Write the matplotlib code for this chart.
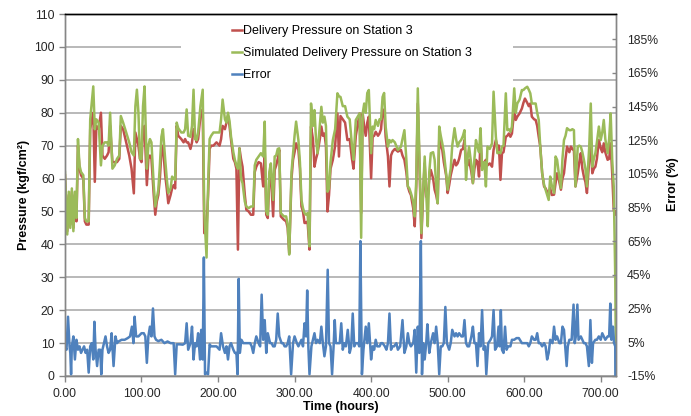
import matplotlib
matplotlib.use("Agg")
import matplotlib.pyplot as plt
from matplotlib.patches import Rectangle
from matplotlib.ticker import FuncFormatter, MultipleLocator

plt.rcParams['font.family'] = ['Liberation Sans', 'DejaVu Sans']

# pressure readings (hours, kgf/cm2)
hours_p = [
    0, 3, 5, 7, 9, 11, 13, 15, 17, 19,
    21, 24, 26, 28, 31, 33, 35, 37, 39, 41,
    44, 47, 49, 52, 55, 57, 59, 62, 65, 68,
    71, 73, 76, 80, 84, 87, 90, 92, 94, 96,
    98, 100, 102, 104, 107, 109, 111, 113, 116, 118,
    120, 122, 124, 126, 128, 131, 133, 135, 138, 140,
    142, 144, 146, 148, 152, 155, 157, 159, 161, 164,
    166, 168, 170, 172, 174, 177, 180, 182, 185, 187,
    189, 191, 194, 198, 202, 204, 206, 209, 211, 213,
    215, 217, 220, 222, 224, 226, 228, 230, 232, 235,
    237, 240, 243, 246, 248, 250, 253, 256, 259, 261,
    263, 265, 267, 269, 272, 274, 276, 278, 280, 282,
    286, 289, 291, 293, 296, 298, 300, 302, 305, 307,
    309, 311, 313, 315, 317, 319.5, 321.5, 324, 326, 328,
    330, 333, 335, 337, 339, 341, 343, 345, 347, 350,
    353, 356, 358, 360, 363, 366, 369, 372, 375, 377,
    380, 383, 385, 387, 389, 391, 393, 395, 397, 400,
    402, 404, 406, 409, 411, 413, 415, 417, 419, 422,
    424, 426, 428, 431, 435, 439, 441, 443.5, 446, 448,
    450, 452, 455, 457, 459, 461, 463, 465.7, 468, 470,
    472, 474, 476, 478, 481, 483, 485, 487, 489, 491,
    493, 495, 498, 500, 502, 504, 506, 509, 511, 513,
    515, 517.6, 520, 522, 524, 526, 528, 531, 533, 535,
    537, 539, 541, 543, 545, 548, 550, 552, 555, 558,
    560, 563, 565, 567, 569, 571, 573, 576, 578, 580,
    582, 584, 587, 589, 591, 594, 597, 599, 601, 604,
    606, 608, 610, 613, 615, 617, 619, 621, 623.5, 626,
    628, 630, 632, 634, 636, 639, 641, 643, 645, 648,
    650, 652, 654, 656, 659, 661, 663, 665, 667, 670,
    672, 674, 676, 678, 680, 682, 685, 687, 689, 691,
    693, 695, 697.6, 700, 702, 704, 706, 709, 711, 713,
    715, 717, 719, 720,
]

delivery = [
    61, 44, 55, 46, 56, 45, 55, 47, 70, 63,
    61, 60, 47, 46, 46, 75, 78, 80, 59, 76,
    75, 80, 67, 66, 67, 68, 76, 65, 65, 65,
    66, 76, 75, 71, 67, 63, 55.5, 74, 72, 70,
    66, 65, 75, 76, 58, 66, 67, 66, 55, 49,
    53, 55, 60, 68, 70, 61, 57, 52.5, 55, 57,
    58, 57, 76, 73, 72, 71, 72, 71, 71, 69,
    71, 75, 73, 71, 72, 79, 81, 43.4, 45, 55,
    69, 70, 70, 71, 70, 72, 76, 75, 77, 79,
    76, 71.7, 66, 65, 63, 38.4, 69.2, 66, 63.6, 55,
    50.5, 50, 49, 49, 62, 63.6, 65, 64.6, 57.6, 68.7,
    49, 48, 60, 61.6, 48.5, 62.6, 64, 66, 68.7, 48.5,
    47.5, 47, 45, 37.4, 60, 65.7, 68, 70.7, 68.7, 63,
    51.5, 50, 46.5, 46.5, 47, 38.4, 75.8, 72, 63.6, 66,
    67.7, 72, 75.8, 73, 73.7, 70, 50, 55, 63, 65.7,
    70, 79.8, 66.7, 79, 78, 77, 71.7, 72, 66, 63,
    73, 77, 79.8, 49.5, 79.8, 75.8, 73, 77, 78.8, 60.1,
    72.7, 73, 74.2, 73, 73.7, 75, 81, 80.8, 72.7, 66.7,
    57.6, 67, 68.2, 69, 68.2, 68.7, 67, 65.7, 62, 57.6,
    56, 55, 51, 45.5, 57.6, 82.8, 65.7, 41.9, 55.6, 64.6,
    54.5, 54.5, 60, 62.6, 60, 56.6, 55, 52.5, 71.7, 70,
    68.7, 65, 61, 55.6, 58, 61, 63, 65.7, 64, 64.6,
    66, 68.7, 69, 71.7, 64.6, 64, 65.7, 62, 58.6, 63,
    65.7, 65, 60.6, 71.7, 63.6, 65, 65.7, 64, 64.6, 63.6,
    68.7, 71.7, 69.7, 70, 59.6, 67.7, 68, 72.7, 73, 73.7,
    72.7, 73.7, 80.8, 77.8, 78.8, 79.8, 81.3, 83, 84.3, 83,
    82, 82.8, 78.8, 78, 77.8, 76, 72.7, 69.7, 61.6, 57.6,
    57, 56, 55.6, 57.1, 55, 55.1, 58.6, 61.6, 60, 56.6,
    60, 61.6, 66, 69.7, 68, 69.7, 69, 68.5, 57.6, 61.6,
    65, 67.7, 63, 60.6, 59, 55.6, 65.7, 70.7, 61.6, 63,
    63.6, 66, 71.7, 69.2, 68, 70.7, 68, 65.7, 66, 70.7,
    61.6, 50.5, 49, 50,
]

simulated = [
    62, 43, 56, 45, 57, 44, 56, 48, 72, 64,
    62, 61, 48, 47, 47, 78, 83, 88, 75, 78,
    77, 64, 70, 71, 71, 70, 80, 63, 64, 66,
    67, 79, 77, 74, 71, 68, 67, 82, 87, 80,
    66, 66, 82, 88, 63, 70, 72, 71, 58, 51.5,
    54, 56.6, 64, 72.7, 75, 65.7, 60, 55.6, 57, 60.6,
    60, 59.6, 77, 75.3, 74, 74, 75, 81, 73, 72.7,
    76, 87, 72, 71.7, 74, 82, 87, 50, 36, 57.6,
    72, 73, 74, 74, 74, 78, 84, 78, 77, 80,
    77.5, 72.7, 68, 65.7, 64, 63, 69.2, 60, 58.6, 53,
    51.5, 51, 51.5, 51.5, 64, 65.7, 66.7, 67.7, 66.7, 77.3,
    50, 49, 62, 64.6, 53.5, 66.7, 67, 69, 69.2, 49.5,
    48.5, 48.5, 46, 36.9, 62, 67.7, 73, 77.3, 71.7, 65,
    53.5, 51, 49.5, 49, 49.5, 39.4, 82.8, 76, 80.8, 72,
    67.7, 76, 81.8, 77, 78.8, 76, 56, 57, 65, 71.7,
    75, 85.9, 85, 84.8, 82, 82, 78.8, 78, 70, 65.7,
    77.8, 79, 79.8, 42, 79.8, 82.8, 80, 86, 86.9, 67.7,
    75.8, 75, 77.8, 76, 78, 78, 84.8, 86, 75.8, 69.7,
    71.7, 71, 71.7, 71, 68.7, 69.7, 72, 74.7, 66, 57.6,
    57, 55.6, 53, 48.5, 59.6, 87.4, 67.7, 43.4, 56.6, 66.7,
    55.6, 45.5, 62, 67.7, 68, 65.7, 58, 52.5, 75.8, 73,
    70.7, 68, 61.6, 56.6, 60, 63, 70, 75.3, 72, 69.7,
    71, 71.7, 73, 74.7, 59.6, 66, 69.7, 64, 58.6, 66,
    71.7, 69.7, 68, 75.3, 62.6, 65, 57.6, 69.7, 69, 70.7,
    86.4, 72.7, 67.7, 68, 67.7, 69.7, 70, 85.9, 74.7, 75,
    74.2, 75.8, 87.4, 80, 82.8, 84, 86.9, 86.9, 87.4, 87.9,
    87, 85.9, 82.8, 82.8, 82.8, 80, 77.8, 69.7, 61.6, 58.1,
    56.6, 55, 53.5, 60.6, 58, 55.6, 66.7, 65.7, 62, 57.1,
    66, 71.7, 73, 75.3, 74.7, 74.7, 75, 74.7, 57.6, 69.7,
    70, 69.7, 68, 65.7, 63, 57.6, 69.7, 82.8, 63.6, 66,
    67.7, 71, 75.8, 71.7, 74, 77.8, 72, 67.7, 72, 79.8,
    65.7, 57.6, 30, 0,
]

# error readings (hours, %)
hours_e = [
    0, 2, 4, 6, 7, 8, 9, 11, 13, 15,
    17, 19, 21, 23, 25, 27, 29, 31, 33, 35,
    37, 38.5, 40, 42, 44, 46, 47.5, 49, 51, 53,
    55, 57, 59, 61, 63.5, 66, 68, 70, 74, 78,
    82, 85, 87.5, 89.5, 91, 93, 96, 100, 103, 105,
    107, 109, 111, 113, 115, 117, 119, 122, 126, 130,
    134, 138, 142, 144, 146, 150, 154, 157, 159, 161,
    164, 166, 168, 170, 172, 174, 176.5, 178, 180, 181.5,
    183, 185, 187, 189, 191, 195, 198, 202, 204, 206.5,
    209, 211, 213, 215, 217, 220, 222, 224, 225.5, 227,
    228.5, 230.5, 233, 235, 238, 242, 244, 246, 248, 250,
    253, 255, 257, 259, 261, 263, 265, 268, 270, 272,
    274, 276, 278, 280, 283, 285, 287, 289, 291, 293,
    295.5, 298, 300, 303, 305, 307, 309, 311, 313, 315,
    316.5, 318, 319.5, 322, 324, 326, 328, 330, 333, 335,
    337, 339, 341, 343.3, 345, 347, 349, 351, 352.5, 354,
    356, 359, 361, 363, 365, 367, 369.5, 372, 374, 376,
    378, 380, 383, 384.5, 386, 388, 390, 393, 395, 397,
    400, 402, 404, 406, 408, 411, 413, 415, 418, 420,
    422, 424, 426, 428, 430, 433, 435, 438, 441, 443.5,
    446, 448, 450, 452, 455, 457, 459, 461, 463, 465,
    466.5, 468, 470, 472, 473.5, 476, 478, 481, 483, 485,
    487, 489, 491, 493, 495, 497, 499, 502, 504, 506,
    509, 511, 513, 515, 518, 520, 522, 524, 526, 528,
    531, 533, 535, 537, 539, 541, 543, 545, 547, 549,
    550.5, 553, 556, 558, 560, 562, 564.5, 566.5, 568, 569.5,
    571, 573, 575, 577, 579, 582, 584, 587, 590, 593,
    597, 601, 604, 606, 608, 610, 613, 615, 617, 619,
    621, 623.5, 626, 628, 630, 632, 634, 637, 639, 641,
    643, 646, 648, 650, 652, 654, 655.5, 657, 659, 662,
    664.5, 666, 667.5, 669.5, 671, 674, 676, 678, 680, 682,
    684.5, 686.5, 688.5, 690, 693, 695, 697.5, 700, 702, 704,
    706, 709, 711, 712.5, 714, 716, 717.5, 719, 720,
]

error_pct = [
    2.6, 0.6, 20.2, 2.6, -1.3, -14, 2.6, 8.5, -5.2, 6.5,
    0.6, 2.6, -1.3, 0.6, 2.6, -1.3, 0.6, -13, 2.6, 4.5,
    -5.2, 17.2, 0.6, -9.1, 0.6, 0.6, -14, 0.6, 4.5, 8.5,
    2.6, -1.3, 0.6, 10.4, -9.1, 8.5, 4.5, 5.5, 6.5, 6.5,
    7.5, 8.5, 14.3, 4.5, 20.2, 8.5, 8.5, 10.4, 10.4, 8.5,
    -7.2, 8.5, 14.3, 8.5, 25.1, 8.5, 6.5, 5.7, 6.5, 4.5,
    5.5, 4.5, 4.5, -14, 3.8, 3.8, 3.6, 4.5, 16.3, 0.6,
    4.5, 14.3, -5.2, 4.5, 2.6, 10.4, -5.2, 12.4, -5.2, 55.4,
    -14, -13, -14, 3.8, 2.6, 2.6, 2.6, 0.6, 10.4, 2.6,
    -1.3, 2.6, -5.2, 2.6, 4.5, 0.6, -1.3, -1.3, -14, 42.7,
    -1.3, 6.5, 4.5, 4.5, 4.5, 4.5, 2.6, -1.3, 4.5, 8.5,
    4.5, 2.6, 33.3, 6.5, 18.2, -1.3, 10.4, 4.5, 4.5, 2.6,
    2.6, 6.5, 22.1, 8.5, 4.5, 4.5, 2.6, 2.6, 4.5, 8.5,
    -14, 4.5, 8.5, 4.5, 2.6, 4.5, 6.5, 2.6, 16.3, 8.5,
    35.8, 2.6, -14, 2.6, 6.5, 10.4, 4.5, 6.5, 4.5, 14.3,
    4.5, -3.3, 2.6, 48.1, 4.5, 2.6, -14, 2.6, 18.2, 4.5,
    4.5, 4.5, 16.3, 0.6, 4.5, 2.6, 12.4, -1.3, 2.6, 22.1,
    2.6, 4.5, 4.5, 2.6, 65.1, -14, 0.6, 14.3, 4.5, 16.3,
    -5.2, 2.6, 0.6, 6.5, 2.6, 2.6, 4.5, 4.5, 2.6, 0.6,
    4.5, 22.1, 0.6, 2.6, 2.6, 4.5, 0.6, 2.6, 18.2, -1.3,
    2.6, 10.4, 4.5, 2.6, 4.5, 12.4, -13, 14.3, -1.3, 65.1,
    -14, 4.5, -5.2, 4.5, 15.7, -1.3, 4.5, 10.4, 4.5, 14.3,
    4.5, -14, 2.6, 2.6, 4.5, 26, 4.5, 0.6, 4.5, 12.4,
    8.5, 10.4, 8.5, 10.4, 8.5, 8.5, 18.2, 4.5, 2.6, 2.6,
    8.5, 14.3, 4.5, 4.5, -9.1, 10.4, 2.6, 24.1, 0.6, 2.6,
    -14, 4.5, 6.5, 8.5, 24.1, 0.6, 2.6, 14.3, 2.6, 24.1,
    0.6, -1.3, 14.3, 0.6, 2.6, 2.6, 6.5, 6.5, 7.5, 7.5,
    4.5, 4.5, 4.5, 2.6, 4.5, 8.5, 6.5, 6.5, 10.4, 4.5,
    4.5, 2.6, 4.5, 2.6, -5.2, -1.3, 6.5, 4.5, 14.3, 6.5,
    8.5, 4.5, 4.5, 14.3, 12.4, 0.6, -9.1, 2.6, 6.5, 6.5,
    27.4, 4.5, 8.5, 27.4, 6.5, 8.5, 6.5, 4.5, 4.5, 2.6,
    -9.1, 18.2, -7.2, 4.5, 6.5, 6.5, 8.5, 6.5, 10.4, 8.5,
    6.5, 8.5, 8.5, 28, 6.5, 14.3, 4.5, 2.6, -100,
]

RED = '#C0504D'
GREEN = '#9BBB59'
BLUE = '#4F81BD'
GRID = '#A6A6A6'
AXIS = '#868686'

fig = plt.figure(figsize=(6.91, 4.16), dpi=100)
ax = fig.add_axes([0.094, 0.0962, 0.7975, 0.8701])
ax2 = ax.twinx()

ax.set_xlim(0, 720)
ax.set_ylim(0, 110)
ax2.set_ylim(-15, 200)

ax.yaxis.grid(True, color=GRID, lw=1.1)
ax.set_axisbelow(True)

# white box behind the legend, like the excel legend area
ax.add_patch(Rectangle((0.21, 0.80), 0.603, 0.2, transform=ax.transAxes,
                       facecolor='white', edgecolor='none', zorder=1.8))

l1, = ax.plot(hours_p, delivery, color=RED, lw=1.8, zorder=2)
l2, = ax.plot(hours_p, simulated, color=GREEN, lw=1.8, zorder=2.1)
l3, = ax2.plot(hours_e, error_pct, color=BLUE, lw=1.8)

ax.xaxis.set_major_locator(MultipleLocator(100))
ax.xaxis.set_major_formatter(FuncFormatter(lambda v, p: f"{v:.2f}"))
ax.yaxis.set_major_locator(MultipleLocator(10))
ax2.set_yticks(range(-15, 186, 20))
ax2.yaxis.set_major_formatter(FuncFormatter(lambda v, p: f"{v:.0f}%"))

for a in (ax, ax2):
    for s in a.spines.values():
        s.set_color(AXIS)
        s.set_linewidth(1.0)
    a.spines['top'].set_color('black')
ax.tick_params(axis='both', direction='out', length=4, width=1, color=AXIS,
               labelsize=8.8, labelcolor='#262626', pad=5)
ax.tick_params(axis='y', pad=3.5)
ax2.tick_params(axis='y', direction='in', length=3, width=1, color=AXIS,
                labelsize=8.8, labelcolor='#262626', pad=8)

ax.set_xlabel('Time (hours)', fontsize=9, fontweight='bold')
ax.xaxis.set_label_coords(0.5, -0.068)
ax.set_ylabel('Pressure (kgf/cm²)', fontsize=9, fontweight='bold')
ax.yaxis.set_label_coords(-0.064, 0.5)
ax2.set_ylabel('Error (%)', fontsize=9, fontweight='bold', rotation=90)
ax2.yaxis.set_label_coords(1.092, 0.53)

ax2.legend([l1, l2, l3],
           ['Delivery Pressure on Station 3',
            'Simulated Delivery Pressure on Station 3', 'Error'],
           loc='upper left', bbox_to_anchor=(0.303, 0.97), frameon=False,
           fontsize=9, handlelength=0.8, handletextpad=0.1,
           labelspacing=0.8, borderpad=0, borderaxespad=0)

fig.savefig('out.png', dpi=100)
